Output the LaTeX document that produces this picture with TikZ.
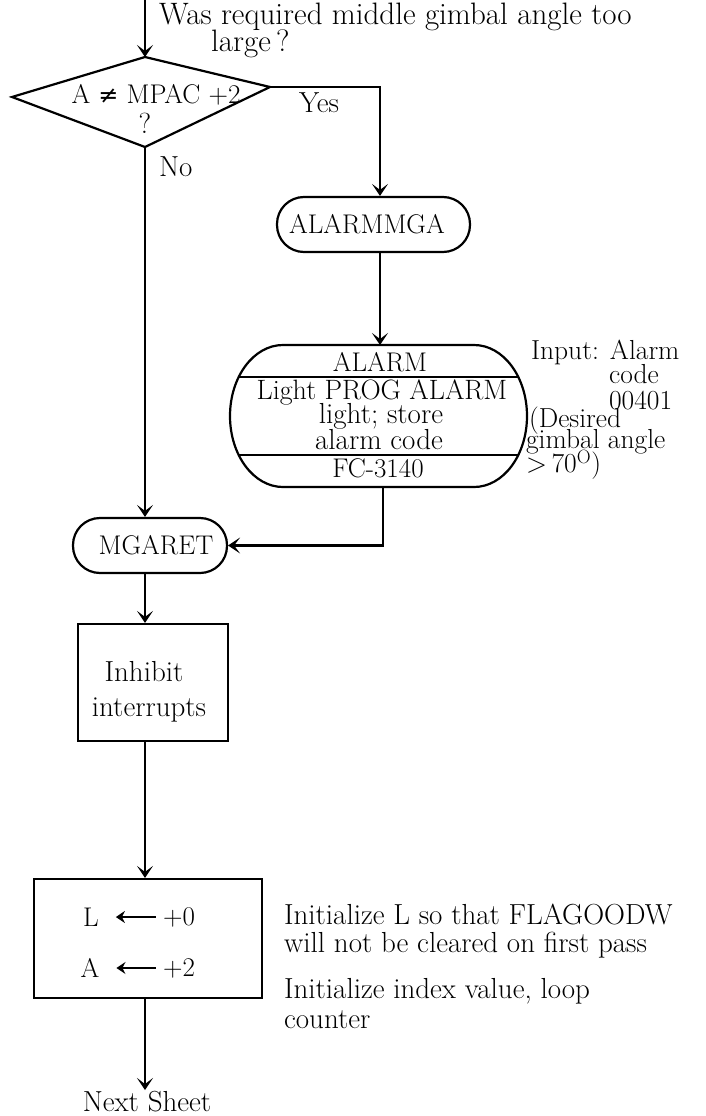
\documentclass[tikz,border=0pt]{standalone}
\usepackage{fontspec}
\newfontfamily\symfont{DejaVu Sans}
\usetikzlibrary{arrows.meta}
\begin{document}
\begin{tikzpicture}[x=1pt,y=-1pt,
  line width=2.2pt,
  arr/.style={-{Stealth[length=12pt,width=16pt,inset=6pt]}},
  txt/.style={font=\fontsize{29}{32}\selectfont, inner sep=0pt},
  captxt/.style={font=\fontsize{27}{30}\selectfont, inner sep=0pt},
  notetxt/.style={font=\fontsize{27.5}{30}\selectfont, inner sep=0pt, anchor=west},
  term/.style={draw, rounded corners=27pt, inner sep=0pt},
  procbox/.style={draw, inner sep=0pt},
  assign/.style={-{Stealth[length=9pt,width=12pt,inset=3pt]}, line width=2.4pt,
                 shorten <=6pt, shorten >=16pt},
]
\useasboundingbox (0,0) rectangle (705,1116);

% decision diamond
\coordinate (top) at (145,-2);
\coordinate (dT) at (145,57);
\coordinate (dR) at (270,87);
\coordinate (dB) at (145,147);
\coordinate (dL) at (12,97);
\draw (dT) -- (dR) -- (dB) -- (dL) -- cycle;
\node[captxt] (dtext) at (156,95) {A {\symfont\fontsize{24}{26}\selectfont ≠} MPAC +2};
\node[txt] (dq) at (145,123) {?};

\node[txt, font=\fontsize{31}{34}\selectfont, anchor=west] (q1) at (158,17) {Was required middle gimbal angle too};
\node[txt, font=\fontsize{31}{34}\selectfont, anchor=west] (q2) at (210,44) {large\,?};
\node[txt, anchor=west] (yes) at (298,103) {Yes};
\node[txt, anchor=west] (no) at (158,167) {No};

% alarm branch
\node[term, minimum width=193pt, minimum height=55pt] (mga) at (373.5,224.5) {};
\node[captxt] (mgatext) at (367,224.5) {ALARMMGA};
\coordinate (yesx) at (380,87);

\coordinate (alarmTop) at (380,345);
\coordinate (alarmBot) at (383,487);
\draw (283,345) -- (474,345)
  .. controls (503.3,345) and (527,376.8) .. (527,416)
  .. controls (527,455.2) and (503.3,487) .. (474,487)
  -- (283,487)
  .. controls (253.7,487) and (230,455.2) .. (230,416)
  .. controls (230,376.8) and (253.7,345) .. (283,345) -- cycle;
\begin{scope}
  \clip (283,345) -- (474,345)
    .. controls (503.3,345) and (527,376.8) .. (527,416)
    .. controls (527,455.2) and (503.3,487) .. (474,487)
    -- (283,487)
    .. controls (253.7,487) and (230,455.2) .. (230,416)
    .. controls (230,376.8) and (253.7,345) .. (283,345) -- cycle;
  \draw (200,377) -- (560,377);
  \draw (200,455) -- (560,455);
\end{scope}
\node[captxt] (a1) at (380,362) {ALARM};
\node[txt, font=\fontsize{28}{30}\selectfont] (a2) at (382,392) {Light PROG ALARM};
\node[txt] (a3) at (381,416) {light; store};
\node[txt] (a4) at (379,440) {alarm code};
\node[captxt] (a5) at (378,468) {FC-3140};

% input note beside the alarm routine
\node[notetxt] (n1) at (530,352) {Input: Alarm};
\node[notetxt] (n2) at (608,374) {code};
\node[notetxt] (n3) at (608,401) {00401};
\node[notetxt] (n4) at (528,421) {(Desired};
\node[notetxt] (n5) at (525,442) {gimbal angle};
\node[notetxt] (n6) at (525,465) {>\,70\textsuperscript{O})};

% main line
\node[term, minimum width=154pt, minimum height=55pt] (mgr) at (150,545.5) {};
\node[captxt] (mgrtext) at (156,545.5) {MGARET};

\node[procbox, minimum width=150pt, minimum height=117pt] (inh) at (153,682.5) {};
\node[txt] (inh1) at (144,672) {Inhibit};
\node[txt] (inh2) at (149,710) {interrupts};

\node[procbox, minimum width=228pt, minimum height=119pt] (init) at (148,938.5) {};
\node[captxt] (lreg) at (91,917) {L};
\node[captxt] (lval) at (179,917) {+0};
\node[captxt] (areg) at (90,968) {A};
\node[captxt] (aval) at (179,968) {+2};
\draw[assign] (lval.west) -- (lreg.east);
\draw[assign] (aval.west) -- (areg.east);

\node[txt, anchor=west] (c1) at (283,914) {Initialize L so that FLAGOODW};
\node[txt, anchor=west] (c2) at (283,945) {will not be cleared on first pass};
\node[txt, anchor=west] (c3) at (283,991) {Initialize index value,\ loop};
\node[txt, anchor=west] (c4) at (283,1020) {counter};

\node[txt, anchor=base] (next) at (147,1111) {Next Sheet};
\coordinate (nextTop) at (145,1090);

% connectors
\draw[arr] (top) -- (dT);
\draw[arr] (dR) -- (yesx) -- (yesx |- mga.north);
\draw[arr] (mga.south -| alarmTop) -- (alarmTop);
\draw[arr] (alarmBot) |- (mgr.east);
\draw[arr] (dB) -- (dB |- mgr.north);
\draw[arr] (mgr.south -| dB) -- (dB |- inh.north);
\draw[arr] (inh.south -| dB) -- (dB |- init.north);
\draw[arr] (init.south -| dB) -- (nextTop);
\end{tikzpicture}
\end{document}
